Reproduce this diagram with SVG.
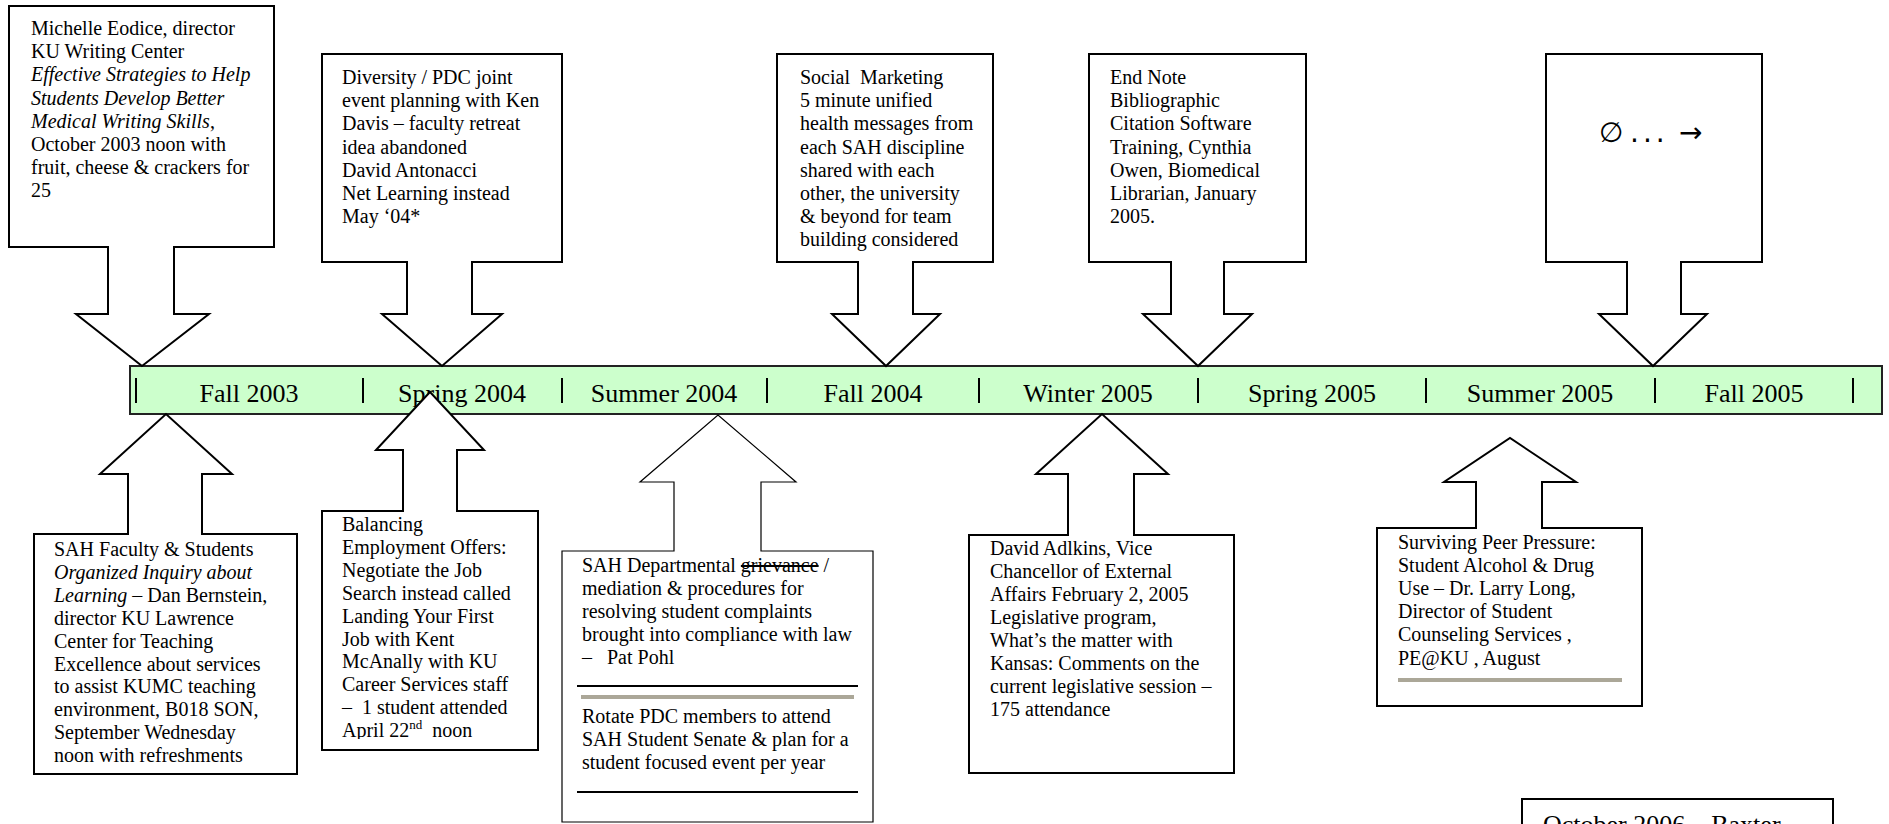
<svg xmlns="http://www.w3.org/2000/svg" width="1889" height="824" viewBox="0 0 1889 824">
<style>
.bg{fill:#ffffff}
.co{fill:#ffffff;stroke:#000000;stroke-width:2;stroke-linejoin:miter}
.thin{stroke-width:1.2}
.bar{fill:#ccffcc;stroke:#222222;stroke-width:2}
.tick{stroke:#000000;stroke-width:2}
.lbl{font-family:"Liberation Serif","Times New Roman",serif;font-size:26px;fill:#000;text-anchor:middle}
.t{font-family:"Liberation Serif","Times New Roman",serif;font-size:20px;fill:#000}
.i{font-style:italic}
.sym{font-family:"DejaVu Sans","Liberation Sans",sans-serif;font-size:28px;fill:#000}
.big{font-family:"Liberation Serif","Times New Roman",serif;font-size:26px;fill:#000}
.rule{stroke:#000;stroke-width:2}
.grey{stroke:#aba798;stroke-width:4}
</style>
<rect class="bg" x="0" y="0" width="1889" height="824"/>

<g id="timeline">
  <rect class="bar" x="130" y="366" width="1752" height="48"/>
  <g id="ticks">
    <line class="tick" x1="136" y1="378" x2="136" y2="403"/>
    <line class="tick" x1="363" y1="378" x2="363" y2="403"/>
    <line class="tick" x1="562" y1="378" x2="562" y2="403"/>
    <line class="tick" x1="767" y1="378" x2="767" y2="403"/>
    <line class="tick" x1="979" y1="378" x2="979" y2="403"/>
    <line class="tick" x1="1198" y1="378" x2="1198" y2="403"/>
    <line class="tick" x1="1426" y1="378" x2="1426" y2="403"/>
    <line class="tick" x1="1655" y1="378" x2="1655" y2="403"/>
    <line class="tick" x1="1853" y1="378" x2="1853" y2="403"/>
  </g>
  <text class="lbl" x="249" y="402">Fall 2003</text>
  <text class="lbl" x="462" y="402">Spring 2004</text>
  <text class="lbl" x="664" y="402">Summer 2004</text>
  <text class="lbl" x="873" y="402">Fall 2004</text>
  <text class="lbl" x="1088" y="402">Winter 2005</text>
  <text class="lbl" x="1312" y="402">Spring 2005</text>
  <text class="lbl" x="1540" y="402">Summer 2005</text>
  <text class="lbl" x="1754" y="402">Fall 2005</text>
</g>

<g id="connectors"></g>

<g id="top-fall2003">
  <path class="co" d="M9,6 H274 V247 H174 V314 H209 L142,366 L76,314 H108 V247 H9 Z"/>
  <text class="t" x="31" y="35">
    <tspan x="31" dy="0">Michelle Eodice, director</tspan>
    <tspan x="31" dy="23.2">KU Writing Center</tspan>
    <tspan x="31" dy="23.2" class="i">Effective Strategies to Help</tspan>
    <tspan x="31" dy="23.2" class="i">Students Develop Better</tspan>
    <tspan x="31" dy="23.2"><tspan class="i">Medical Writing Skills</tspan>,</tspan>
    <tspan x="31" dy="23.2">October 2003 noon with</tspan>
    <tspan x="31" dy="23.2">fruit, cheese &amp; crackers for</tspan>
    <tspan x="31" dy="23.2">25</tspan>
  </text>
</g>

<g id="top-spring2004">
  <path class="co" d="M322,54 H562 V262 H472 V314 H502 L442,366 L382,314 H407 V262 H322 Z"/>
  <text class="t" x="342" y="84">
    <tspan x="342" dy="0">Diversity / PDC joint</tspan>
    <tspan x="342" dy="23.2">event planning with Ken</tspan>
    <tspan x="342" dy="23.2">Davis – faculty retreat</tspan>
    <tspan x="342" dy="23.2">idea abandoned</tspan>
    <tspan x="342" dy="23.2">David Antonacci</tspan>
    <tspan x="342" dy="23.2">Net Learning instead</tspan>
    <tspan x="342" dy="23.2">May ‘04*</tspan>
  </text>
</g>

<g id="top-fall2004">
  <path class="co" d="M777,54 H993 V262 H913 V314 H940 L886,366 L832,314 H858 V262 H777 Z"/>
  <text class="t" x="800" y="84" xml:space="preserve"><tspan x="800" dy="0">Social  Marketing</tspan><tspan x="800" dy="23.2">5 minute unified</tspan><tspan x="800" dy="23.2">health messages from</tspan><tspan x="800" dy="23.2">each SAH discipline</tspan><tspan x="800" dy="23.2">shared with each</tspan><tspan x="800" dy="23.2">other, the university</tspan><tspan x="800" dy="23.2">&amp; beyond for team</tspan><tspan x="800" dy="23.2">building considered</tspan></text>
</g>

<g id="top-winter2005">
  <path class="co" d="M1089,54 H1306 V262 H1224 V314 H1252 L1198,366 L1143,314 H1171 V262 H1089 Z"/>
  <text class="t" x="1110" y="84">
    <tspan x="1110" dy="0">End Note</tspan>
    <tspan x="1110" dy="23.2">Bibliographic</tspan>
    <tspan x="1110" dy="23.2">Citation Software</tspan>
    <tspan x="1110" dy="23.2">Training, Cynthia</tspan>
    <tspan x="1110" dy="23.2">Owen, Biomedical</tspan>
    <tspan x="1110" dy="23.2">Librarian, January</tspan>
    <tspan x="1110" dy="23.2">2005.</tspan>
  </text>
</g>

<g id="top-fall2005">
  <path class="co" d="M1546,54 H1762 V262 H1681 V314 H1707 L1653,366 L1599,314 H1627 V262 H1546 Z"/>
  <text class="sym" x="1599" y="142"><tspan x="1599">∅</tspan><tspan x="1630" letter-spacing="4">...</tspan><tspan x="1679">→</tspan></text>
</g>

<g id="bottom-fall2003">
  <path class="co" d="M34,534 H128 V474 H100 L166,414 L232,474 H202 V534 H297 V774 H34 Z"/>
  <text class="t" x="54" y="556">
    <tspan x="54" dy="0">SAH Faculty &amp; Students</tspan>
    <tspan x="54" dy="22.9" class="i">Organized Inquiry about</tspan>
    <tspan x="54" dy="22.9"><tspan class="i">Learning</tspan> – Dan Bernstein,</tspan>
    <tspan x="54" dy="22.9">director KU Lawrence</tspan>
    <tspan x="54" dy="22.9">Center for Teaching</tspan>
    <tspan x="54" dy="22.9">Excellence about services</tspan>
    <tspan x="54" dy="22.9">to assist KUMC teaching</tspan>
    <tspan x="54" dy="22.9">environment, B018 SON,</tspan>
    <tspan x="54" dy="22.9">September Wednesday</tspan>
    <tspan x="54" dy="22.9">noon with refreshments</tspan>
  </text>
</g>

<g id="bottom-spring2004">
  <path class="co" d="M322,511 H403 V450 H376 L430,392 L484,450 H457 V511 H538 V750 H322 Z"/>
  <clipPath id="clipB2"><rect x="323" y="512" width="214" height="227"/></clipPath>
  <text class="t" x="342" y="531" clip-path="url(#clipB2)" xml:space="preserve"><tspan x="342" dy="0">Balancing</tspan><tspan x="342" dy="22.9">Employment Offers:</tspan><tspan x="342" dy="22.9">Negotiate the Job</tspan><tspan x="342" dy="22.9">Search instead called</tspan><tspan x="342" dy="22.9">Landing Your First</tspan><tspan x="342" dy="22.9">Job with Kent</tspan><tspan x="342" dy="22.9">McAnally with KU</tspan><tspan x="342" dy="22.9">Career Services staff</tspan><tspan x="342" dy="22.9">–  1 student attended</tspan><tspan x="342" dy="22.9">April 22</tspan><tspan dy="-8" font-size="13px">nd</tspan><tspan dy="8">  noon</tspan></text>
</g>

<g id="bottom-summer2004">
  <path class="co thin" d="M562,551 H674 V482 H640 L718,415 L796,482 H761 V551 H873 V822 H562 Z"/>
  <text class="t" x="582" y="572" xml:space="preserve"><tspan x="582" dy="0">SAH Departmental <tspan text-decoration="line-through">grievance</tspan> /</tspan><tspan x="582" dy="23">mediation &amp; procedures for</tspan><tspan x="582" dy="23">resolving student complaints</tspan><tspan x="582" dy="23">brought into compliance with law</tspan><tspan x="582" dy="23">–   Pat Pohl</tspan></text>
  <line class="rule" x1="577" y1="686" x2="858" y2="686"/>
  <line class="grey" x1="581" y1="697" x2="854" y2="697"/>
  <text class="t" x="582" y="723">
    <tspan x="582" dy="0">Rotate PDC members to attend</tspan>
    <tspan x="582" dy="23">SAH Student Senate &amp; plan for a</tspan>
    <tspan x="582" dy="23">student focused event per year</tspan>
  </text>
  <line class="rule" x1="577" y1="792" x2="858" y2="792"/>
</g>

<g id="bottom-winter2005">
  <path class="co" d="M969,535 H1068 V474 H1036 L1102,414 L1168,474 H1134 V535 H1234 V773 H969 Z"/>
  <text class="t" x="990" y="555">
    <tspan x="990" dy="0">David Adlkins, Vice</tspan>
    <tspan x="990" dy="23">Chancellor of External</tspan>
    <tspan x="990" dy="23">Affairs February 2, 2005</tspan>
    <tspan x="990" dy="23">Legislative program,</tspan>
    <tspan x="990" dy="23">What’s the matter with</tspan>
    <tspan x="990" dy="23">Kansas: Comments on the</tspan>
    <tspan x="990" dy="23">current legislative session –</tspan>
    <tspan x="990" dy="23">175 attendance</tspan>
  </text>
</g>

<g id="bottom-summer2005">
  <path class="co" d="M1377,528 H1476 V482 H1444 L1510,438 L1576,482 H1542 V528 H1642 V706 H1377 Z"/>
  <text class="t" x="1398" y="549">
    <tspan x="1398" dy="0">Surviving Peer Pressure:</tspan>
    <tspan x="1398" dy="23.1">Student Alcohol &amp; Drug</tspan>
    <tspan x="1398" dy="23.1">Use – Dr. Larry Long,</tspan>
    <tspan x="1398" dy="23.1">Director of Student</tspan>
    <tspan x="1398" dy="23.1">Counseling Services ,</tspan>
    <tspan x="1398" dy="23.1">PE@KU , August</tspan>
  </text>
  <line class="grey" x1="1398" y1="680" x2="1622" y2="680"/>
</g>

<g id="note-oct2006">
  <rect class="co" x="1522" y="799" width="311" height="60"/>
  <text class="big" x="1543" y="833">October 2006 – Baxter</text>
</g>
</svg>
